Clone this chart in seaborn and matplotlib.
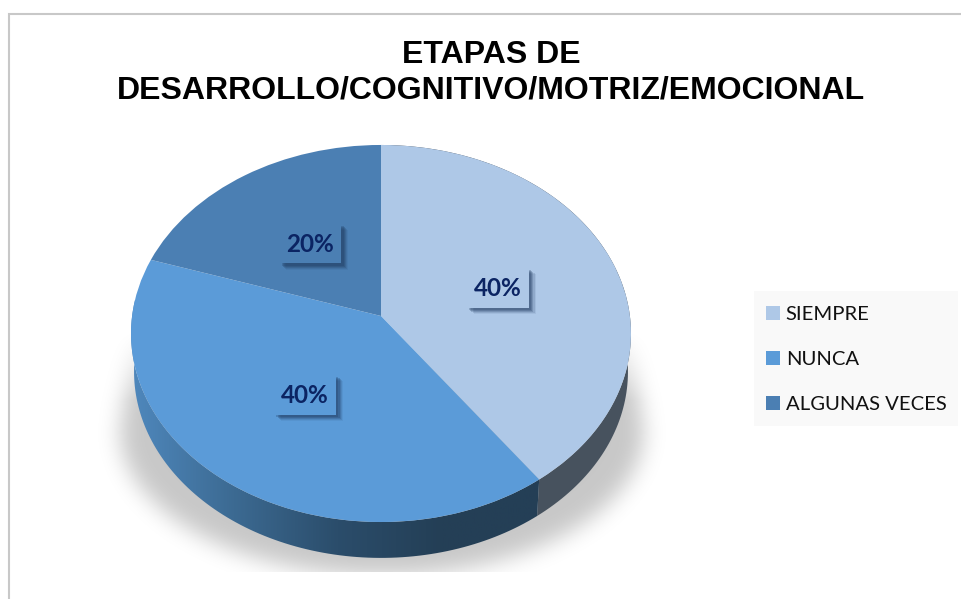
import numpy as np
import matplotlib
matplotlib.use('Agg')
import matplotlib.pyplot as plt
import matplotlib.patheffects as pe
import matplotlib.transforms as mtrans
from matplotlib.colors import LinearSegmentedColormap
from matplotlib.patches import Polygon, Rectangle
import seaborn as sns

title_lines = ['ETAPAS DE', 'DESARROLLO/COGNITIVO/MOTRIZ/EMOCIONAL']
categories = ['SIEMPRE', 'NUNCA', 'ALGUNAS VECES']
percent = [40, 40, 20]
top_colors = ['#aec8e7', '#5b9bd8', '#4b7fb3']

sns.set_theme(style='white')

# perspective of the 3d pie, pixels of the picture, y going down
apex_x, apex_y = 381, 316
persp_a, persp_b, persp_k = 248.9, 186.9, 0.0928
wall_scale, wall_drop = 0.988, 38.6


def project(xy):
    xy = np.asarray(xy, dtype=float)
    d = 1 + persp_k * xy[:, 1]
    return np.column_stack([apex_x + persp_a * xy[:, 0] / d,
                            apex_y - persp_b * xy[:, 1] / d])


class Perspective(mtrans.Transform):
    input_dims = 2
    output_dims = 2
    is_affine = False

    def transform_non_affine(self, values):
        return project(values)


def wall_outline(t1, t2):
    th = np.radians(np.linspace(t1, t2, 120))
    unit = np.column_stack([np.cos(th), np.sin(th)])
    top = project(unit)
    low = project(unit * wall_scale) + [0, wall_drop]
    return np.vstack([top, low[::-1]])


def blur(a, sigma):
    r = int(sigma * 3)
    k = np.exp(-0.5 * (np.arange(-r, r + 1) / sigma) ** 2)
    k = k / k.sum()
    a = np.apply_along_axis(lambda v: np.convolve(v, k, mode='same'), 0, a)
    a = np.apply_along_axis(lambda v: np.convolve(v, k, mode='same'), 1, a)
    return a


fig = plt.figure(figsize=(9.61, 5.99), dpi=100)
ax = fig.add_axes([0, 0, 1, 1])

wedges, _, autotexts = ax.pie(percent, colors=sns.color_palette(top_colors),
                              startangle=90, counterclock=False,
                              autopct='%.0f%%', pctdistance=0.5)
ax.set_aspect('auto')

persp = Perspective() + ax.transData
for w in wedges:
    w.set_transform(persp)
    w.set_edgecolor('none')
    w.set_zorder(2)

# soft shadow under the pie, sides taper towards the top and fade out there
yy, xx = np.mgrid[0:599, 0:961]
half = np.where(yy < 430, 262 - (430 - yy) * 0.155,
                262 * np.sqrt(np.clip(1 - ((yy - 430) / 145.0) ** 2, 0, 1)))
mask = (np.abs(xx - 381.5) < half).astype(float)
soft = blur(mask, 11)
soft = soft * np.clip((yy - 330) / 70.0, 0, 1)
soft[572:] = 0
shadow = np.zeros((599, 961, 4))
shadow[..., 3] = soft * 0.22
ax.imshow(shadow, extent=(0, 961, 599, 0), aspect='auto', zorder=0, interpolation='bilinear')

# side walls of the slices
wall_cmap = LinearSegmentedColormap.from_list(
    'wall', ['#4f88bd', '#3c6a92', '#2b4d6b', '#243f56', '#243f56'])
wall_grad = np.linspace(0, 1, 256).reshape(1, -1)
siempre_wall = Polygon(wall_outline(wedges[0].theta1, wedges[0].theta2),
                       closed=True, fc='#47525e', ec='none', zorder=1)
ax.add_patch(siempre_wall)
nunca_wall = Polygon(wall_outline(wedges[1].theta1, wedges[1].theta2),
                     closed=True, fc='none', ec='none', zorder=1)
ax.add_patch(nunca_wall)
im = ax.imshow(wall_grad, extent=(130, 545, 600, 300), aspect='auto',
               cmap=wall_cmap, zorder=1)
im.set_clip_path(nunca_wall)

# value labels on raised boxes
box_w, box_h = 62, 40
box_shadow = [pe.SimplePatchShadow(offset=(o, -o), shadow_rgbFace='#1f3a5f', alpha=a)
              for o, a in [(5.0, 0.08), (4.2, 0.14), (3.4, 0.2), (2.6, 0.25), (1.8, 0.25)]]
for w, t, c in zip(wedges, autotexts, top_colors):
    x, y = project([t.get_position()])[0]
    t.set_position((x, y + 1))
    t.set(ha='center', va='center', color='#0b2463', fontsize=17.5,
          fontweight='bold', family='Lato', zorder=5)
    box = Rectangle((x - box_w / 2, y - box_h / 2), box_w, box_h, fc=c, ec='none', zorder=4)
    box.set_path_effects(box_shadow + [pe.Normal()])
    ax.add_patch(box)

ax.text(491, 72.5, '\n'.join(title_lines), ha='center', va='center', fontsize=23,
        fontweight='bold', family='Liberation Sans', color='black', linespacing=1.26)

# chart border, open on the right and at the bottom
ax.plot([8.5, 8.5, 961], [599, 13.5, 13.5], color='#c8c8c8', lw=1.5, solid_joinstyle='miter')

ax.add_patch(Rectangle((754, 291), 204, 135, fc='#f9f9f9', ec='none', zorder=3))
leg = ax.legend(wedges, categories, loc='upper left', bbox_to_anchor=(753, 293),
                bbox_transform=ax.transData, borderaxespad=0, frameon=False,
                prop={'family': 'Lato', 'size': 14.6}, handlelength=0.69, handleheight=0.69,
                handletextpad=0.3, labelspacing=1.38, borderpad=0.62)
leg.set_zorder(6)
for txt in leg.get_texts():
    txt.set_color('#111111')

ax.set_xlim(0, 961)
ax.set_ylim(599, 0)
ax.axis('off')
fig.savefig('out.png', dpi=100, facecolor='white')
